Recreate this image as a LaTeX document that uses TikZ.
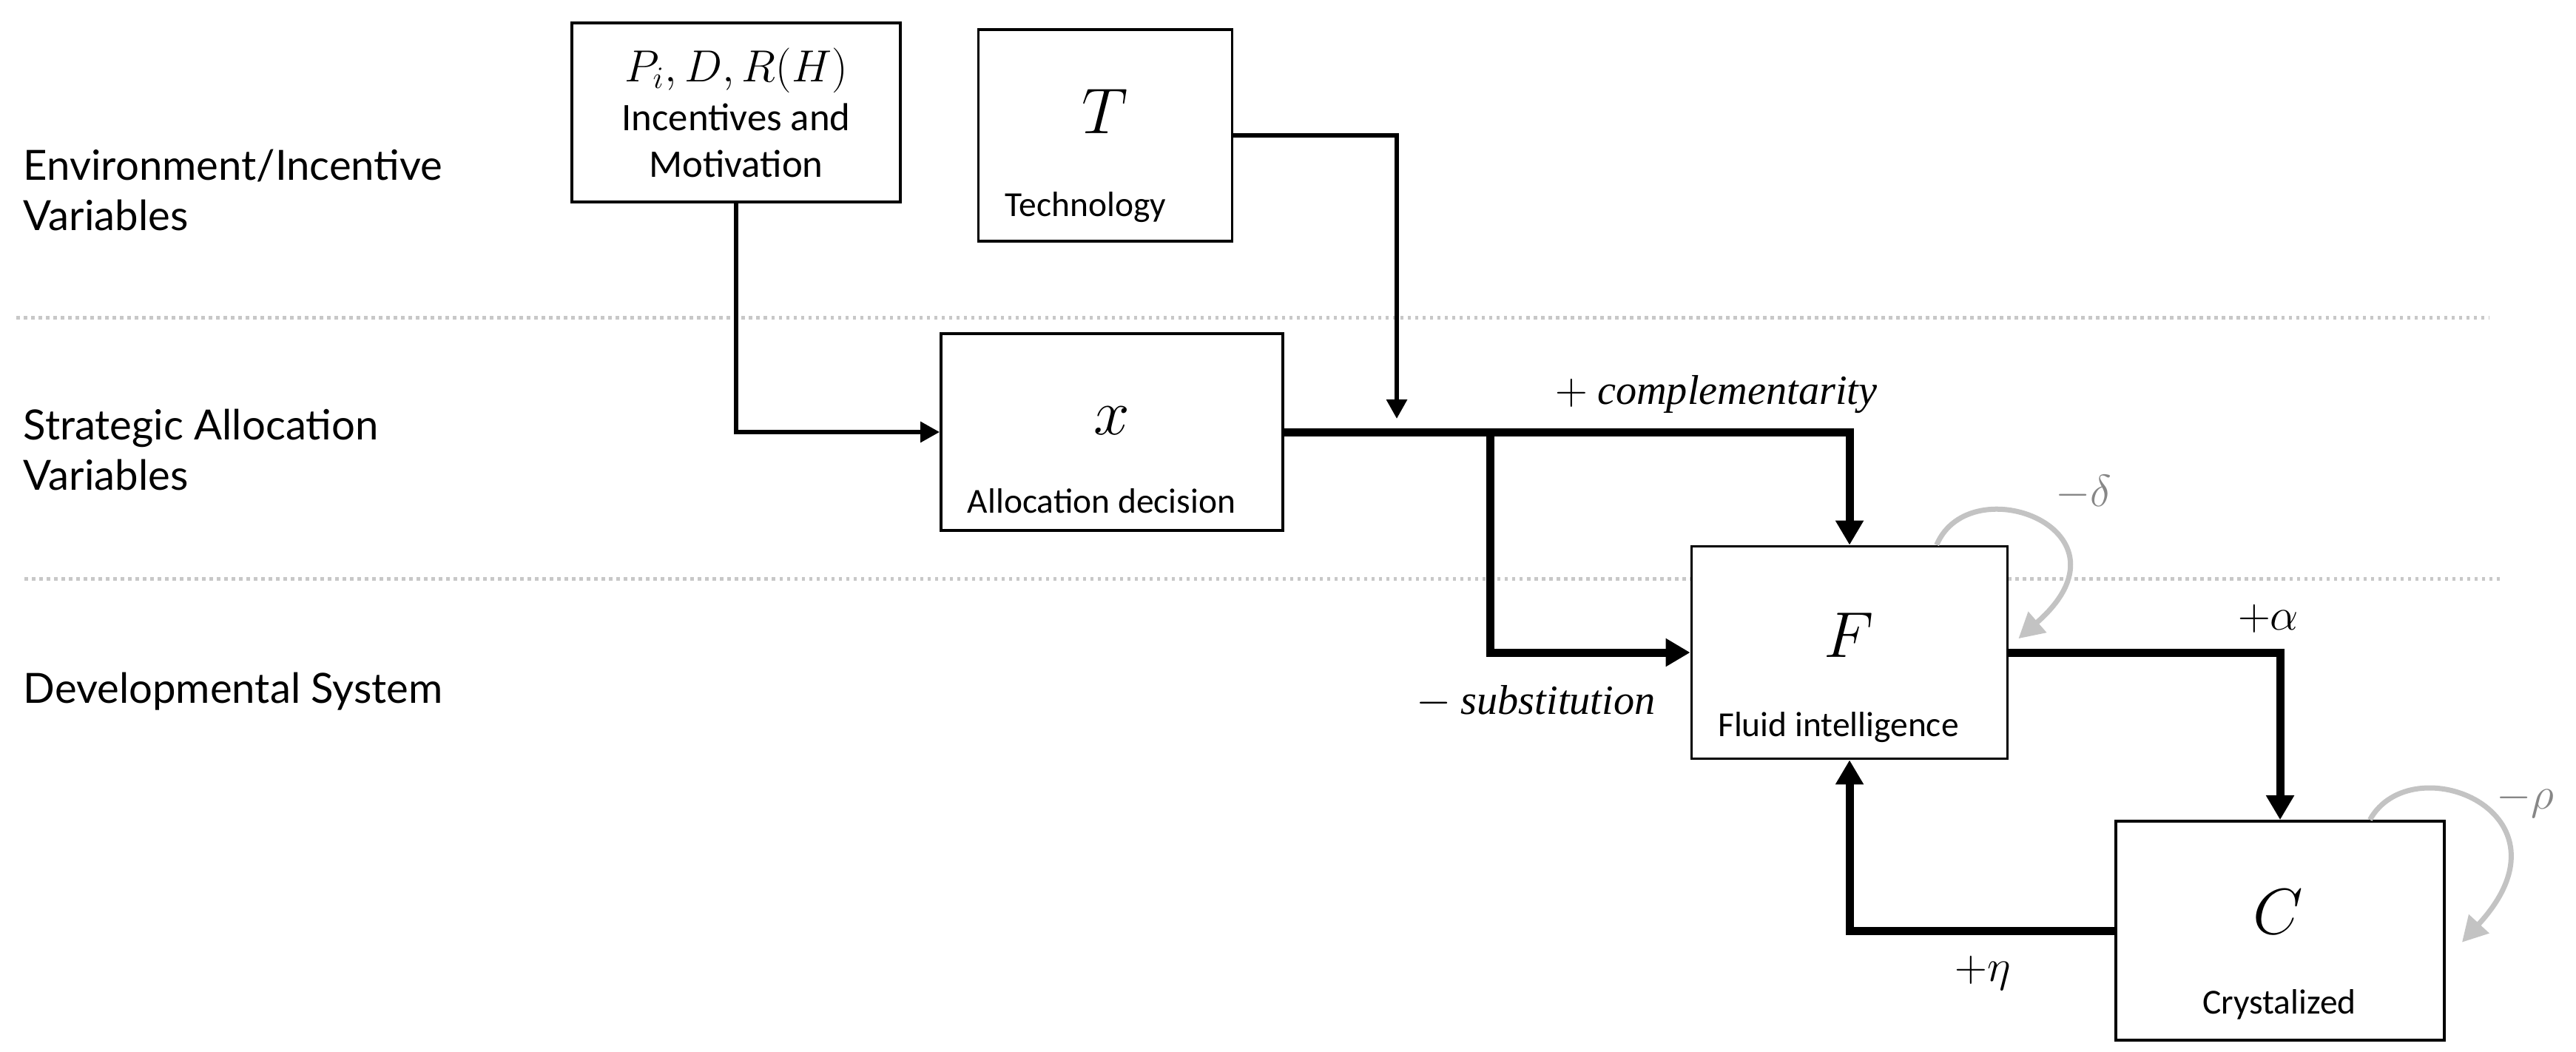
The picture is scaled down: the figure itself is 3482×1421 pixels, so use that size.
\documentclass[tikz,border=0pt]{standalone}
\usepackage{fontspec}
\setmainfont{Carlito}
\newfontfamily\lanefont{Lato}
\newfontfamily\wordfont{Liberation Serif}
\usepackage{tikz}
\usetikzlibrary{arrows.meta}
\definecolor{loopgray}{RGB}{195,195,195}
\definecolor{rulegray}{RGB}{200,200,200}
\definecolor{labgray}{RGB}{135,135,135}

\begin{document}
\begin{tikzpicture}[
        x=0.01cm, y=-0.01cm,
        blk/.style={rectangle, draw, line width=0.035cm, fill=white, inner sep=0pt},
        sym/.style={font=\fontsize{24.88}{30}\selectfont},
        tag/.style={font=\fontsize{13.5}{16.2}\selectfont},
        lane/.style={anchor=west, align=left, inner sep=0pt, font=\lanefont\fontsize{16}{19.3}\selectfont},
        coef/.style={font=\fontsize{17.28}{20}\selectfont},
        flow/.style={line width=0.06cm, -{Triangle[length=0.26cm, width=0.27cm]}},
        fat/.style={line width=0.11cm, -{Triangle[length=0.33cm, width=0.36cm]}},
        rim/.style={rulegray, line width=0.05cm, dash pattern=on 0.045cm off 0.055cm},
        selfarc/.style={loopgray, line width=0.07cm, -{Triangle[length=0.34cm, width=0.36cm]}},
    ]
        \useasboundingbox (0,0) rectangle (3482,1421);

        % Row dividers
        \draw[rim] (22,429) -- (3364,429);
        \draw[rim] (33,782) -- (3380,782);

        % Row labels (left)
        \node[lane] (ROWENV) at (31,257) {Environment/Incentive\\Variables};
        \node[lane] (ROWSTR) at (31,608) {Strategic Allocation\\Variables};
        \node[lane] (ROWDEV) at (31,935) {Developmental System};

        % Boxes
        \node[blk, minimum width=4.44cm, minimum height=2.42cm] (INCBOX) at (995,152) {};
        \node[blk, minimum width=3.43cm, minimum height=2.86cm] (TECHBOX) at (1494,183) {};
        \node[blk, minimum width=4.62cm, minimum height=2.66cm] (XBOX) at (1503,584) {};
        \node[blk, minimum width=4.27cm, minimum height=2.87cm] (FBOX) at (2500,882) {};
        \node[blk, minimum width=4.44cm, minimum height=2.96cm] (CBOX) at (3082,1258) {};

        % Box contents
        \node[font=\fontsize{17.28}{21}\selectfont] (INCSYM) at (995,95) {$P_i, D, R(H)$};
        \node[align=center, font=\fontsize{15}{18}\selectfont] (INCTXT) at (995,190) {Incentives and\\Motivation};
        \node[sym] (TSYM) at (1494,151) {$T$};
        \node[tag, anchor=west, inner sep=0pt] (TTXT) at (1358,280) {Technology};
        \node[sym] (XSYM) at (1503,569) {$x$};
        \node[tag] (XTXT) at (1489,677) {Allocation decision};
        \node[sym] (FSYM) at (2499,859) {$F$};
        \node[tag] (FTXT) at (2485,983) {Fluid intelligence};
        \node[sym] (CSYM) at (3079,1233) {$C$};
        \node[tag] (CTXT) at (3081,1358) {Crystalized};

        % Junction points
        \coordinate (TDROP) at (1888,566);
        \coordinate (SPLIT) at (2014,584);

        % Connectors
        \draw[flow] (INCBOX.south) |- (XBOX.west);
        \draw[flow] (TECHBOX.east) -| (TDROP);
        \draw[fat] (XBOX.east) -| (FBOX.north);
        \draw[fat] (SPLIT) |- (FBOX.west);
        \draw[fat] (FBOX.east) -| (CBOX.north);
        \draw[fat] (CBOX.west) -| (FBOX.south);

        % Decay loops (grey)
        \draw[selfarc] (FBOX.51) .. controls (2663,629) and (2896,717) .. ([xshift=0.13cm]FBOX.5);
        \draw[selfarc] (CBOX.51) .. controls (3260,1006) and (3490,1098) .. ([xshift=0.22cm]CBOX.-4);

        % Coefficient labels
        \node[font=\fontsize{16}{19}\selectfont] (LCOMP) at (2320,533) {$+$\ {\wordfont\itshape complementarity}};
        \node[font=\fontsize{16}{19}\selectfont] (LSUBS) at (2076,948) {$-$\ {\wordfont\itshape substitution}};
        \node[coef] (LALPHA) at (3066,836) {$+\alpha$};
        \node[coef] (LETA) at (2680,1315) {$+\eta$};
        \node[coef, labgray] (LDELTA) at (2816,666) {$-\delta$};
        \node[coef, labgray] (LRHO) at (3413,1082) {$-\rho$};
    \end{tikzpicture}
\end{document}
